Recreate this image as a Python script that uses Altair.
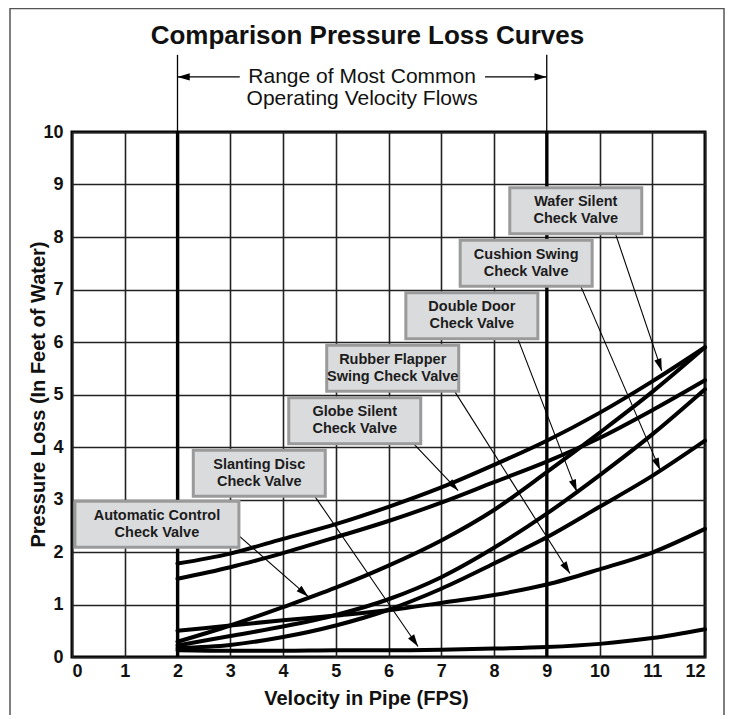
import math
import altair as alt
import pandas as pd

# ---------------- data ----------------
velocity = [2, 3, 4, 5, 6, 7, 8, 9, 10, 11, 12]

wafer_silent = [1.78, 1.97, 2.25, 2.53, 2.86, 3.23, 3.66, 4.12, 4.65, 5.25, 5.90]
globe_silent = [1.49, 1.71, 1.98, 2.28, 2.59, 2.94, 3.33, 3.72, 4.17, 4.70, 5.27]
automatic_control = [0.29, 0.60, 0.95, 1.32, 1.74, 2.22, 2.80, 3.52, 4.27, 5.05, 5.90]
double_door = [0.22, 0.40, 0.58, 0.80, 1.10, 1.52, 2.08, 2.73, 3.46, 4.24, 5.10]
cushion_swing = [0.17, 0.23, 0.38, 0.60, 0.90, 1.30, 1.78, 2.28, 2.86, 3.45, 4.12]
rubber_flapper = [0.50, 0.60, 0.70, 0.79, 0.89, 1.03, 1.18, 1.38, 1.67, 1.99, 2.44]
slanting_disc = [0.13, 0.12, 0.12, 0.13, 0.13, 0.14, 0.16, 0.19, 0.25, 0.36, 0.53]

series_names = ["Wafer Silent", "Globe Silent", "Automatic Control", "Double Door",
                "Cushion Swing", "Rubber Flapper", "Slanting Disc"]
series_values = [wafer_silent, globe_silent, automatic_control, double_door,
                 cushion_swing, rubber_flapper, slanting_disc]

label_texts = ["Wafer Silent\nCheck Valve", "Cushion Swing\nCheck Valve",
               "Double Door\nCheck Valve", "Rubber Flapper\nSwing Check Valve",
               "Globe Silent\nCheck Valve", "Slanting Disc\nCheck Valve",
               "Automatic Control\nCheck Valve"]

x_ticks = list(range(0, 13))
y_ticks = list(range(0, 11))
range_bounds = [2, 9]

title_text = "Comparison Pressure Loss Curves"
range_text = "Range of Most Common\nOperating Velocity Flows"

# ---------------- layout (annotation anchors, in axis units) ----------------
W, H = 633, 525
PXX, PXY = W / 12, H / 10

label_cx = [9.55, 8.61, 7.58, 6.08, 5.36, 3.55, 1.61]
label_cy = [8.5, 7.5, 6.5, 5.5, 4.5, 3.5, 2.53]
label_w = [132, 132, 132, 132, 132, 132, 164]
label_h = 46

arrow_x0 = [10.31, 9.65, 8.46, 7.26, 6.47, 4.61, 3.15]
arrow_y0 = [8.04, 7.05, 6.04, 5.05, 4.07, 3.05, 2.32]
arrow_x1 = [11.18, 11.15, 9.57, 9.44, 7.32, 6.56, 4.48]
arrow_y1 = [5.45, 3.56, 3.15, 1.59, 3.17, 0.20, 1.15]

FONT = "Liberation Sans"

# ---------------- tables ----------------
curves = pd.DataFrame([
    {"series": n, "v": v, "p": p}
    for n, vals in zip(series_names, series_values)
    for v, p in zip(velocity, vals)
])

boxes = pd.DataFrame({
    "text": label_texts,
    "cx": label_cx,
    "cy": label_cy,
    "x0": [c - w / 2 / PXX for c, w in zip(label_cx, label_w)],
    "x1": [c + w / 2 / PXX for c, w in zip(label_cx, label_w)],
    "y0": [c - label_h / 2 / PXY for c in label_cy],
    "y1": [c + label_h / 2 / PXY for c in label_cy],
})


def head_angle(xa, ya, xb, yb):
    dxs = (xb - xa) * PXX
    dys = -(yb - ya) * PXY
    return math.degrees(math.atan2(dxs, -dys)) % 360


range_y = 11.05
range_arrow_x0 = [3.18, 7.83]
arrows = pd.DataFrame({
    "x0": arrow_x0 + range_arrow_x0,
    "y0": arrow_y0 + [range_y, range_y],
    "x1": arrow_x1 + range_bounds,
    "y1": arrow_y1 + [range_y, range_y],
})
arrows["ang"] = [head_angle(a, b, c, d) for a, b, c, d in
                 zip(arrows.x0, arrows.y0, arrows.x1, arrows.y1)]

bounds = pd.DataFrame({"v": range_bounds, "top": [11.47, 11.47], "bottom": [10, 10], "zero": [0, 0]})

xs = alt.Scale(domain=[0, 12], nice=False, zero=False)
ys = alt.Scale(domain=[0, 10], nice=False, zero=False)

AX = alt.Axis(
    values=x_ticks, grid=True, gridColor="#222", gridWidth=1.6,
    ticks=False, domain=False, labelFont=FONT, labelFontSize=18,
    labelFontWeight="bold", labelColor="#111", labelPadding=5,
    title="Velocity in Pipe (FPS)", titleFont=FONT, titleFontSize=20,
    titleFontWeight="bold", titleColor="#111", titleX=294, titleY=41,
    titleAlign="center", titleBaseline="middle")
AY = alt.Axis(
    values=y_ticks, grid=True, gridColor="#222", gridWidth=1.6,
    ticks=False, domain=False, labelFont=FONT, labelFontSize=18,
    labelFontWeight="bold", labelColor="#111", labelPadding=9,
    title="Pressure Loss (In Feet of Water)", titleFont=FONT,
    titleFontSize=20, titleFontWeight="bold", titleColor="#111",
    titleX=-34, titleY=262, titleAngle=270, titleAlign="center",
    titleBaseline="middle")


def X(f):
    return alt.X(f, scale=xs, axis=AX)


def Y(f):
    return alt.Y(f, scale=ys, axis=AY)


# ---------------- layers ----------------
frame = alt.Chart(pd.DataFrame({"a": [0]})).mark_rect(
    filled=False, stroke="#555", strokeWidth=1.5
).encode(x=alt.value(-62), x2=alt.value(652), y=alt.value(-123.5), y2=alt.value(640))

thick_rules = alt.Chart(bounds).mark_rule(color="#000", strokeWidth=3.2).encode(
    x=X("v:Q"), y=Y("zero:Q"), y2="bottom:Q",
)

upper_rules = alt.Chart(bounds).mark_rule(color="#000", strokeWidth=1.3).encode(
    x=X("v:Q"), y=Y("bottom:Q"), y2="top:Q",
)

lines = alt.Chart(curves).mark_line(
    color="#000", strokeWidth=4, interpolate="monotone", strokeCap="round"
).encode(
    x=X("v:Q"), y=Y("p:Q"), detail="series:N",
)

arrow_lines = alt.Chart(arrows).mark_rule(color="#000", strokeWidth=1.1).encode(
    x=X("x0:Q"), y=Y("y0:Q"), x2="x1:Q", y2="y1:Q",
)

arrow_heads = alt.Chart(arrows).mark_point(
    shape="M0,0L-0.6,2L0.6,2Z", filled=True, color="#000", opacity=1, size=150,
    strokeWidth=0
).encode(
    x=X("x1:Q"), y=Y("y1:Q"), angle=alt.Angle("ang:Q", scale=None),
)

box_rects = alt.Chart(boxes).mark_rect(
    fill="#dadbdd", stroke="#9a9a9a", strokeWidth=3
).encode(
    x=X("x0:Q"), x2="x1:Q", y=Y("y0:Q"), y2="y1:Q",
)

box_text = alt.Chart(boxes).mark_text(
    font=FONT, fontWeight="bold", fontSize=14.5, lineBreak="\n", lineHeight=17,
    align="center", baseline="middle", color="#1c1c1c", dy=-8.5
).encode(
    x=X("cx:Q"), y=Y("cy:Q"), text="text:N",
)

title_mark = alt.Chart(pd.DataFrame({"t": [title_text], "x": [5.6], "y": [11.82]})).mark_text(
    font=FONT, fontWeight="bold", fontSize=26, align="center", baseline="middle", color="#111"
).encode(
    x=X("x:Q"), y=Y("y:Q"), text="t:N",
)

range_mark = alt.Chart(pd.DataFrame({"t": [range_text], "x": [5.5], "y": [11.05]})).mark_text(
    font=FONT, fontSize=21, lineBreak="\n", lineHeight=22, align="center",
    baseline="middle", color="#111"
).encode(
    x=X("x:Q"), y=Y("y:Q"), text="t:N",
)

chart = alt.layer(
    frame, thick_rules, upper_rules, lines, arrow_lines, arrow_heads,
    box_rects, box_text, title_mark, range_mark
).properties(
    width=W, height=H,
    autosize=alt.AutoSizeParams(type="none"),
    padding={"left": 64, "top": 124, "right": 21, "bottom": 58},
).configure_view(
    stroke="#000", strokeWidth=3
)

chart.save("out.html", embed_options={"renderer": "svg", "actions": False})
